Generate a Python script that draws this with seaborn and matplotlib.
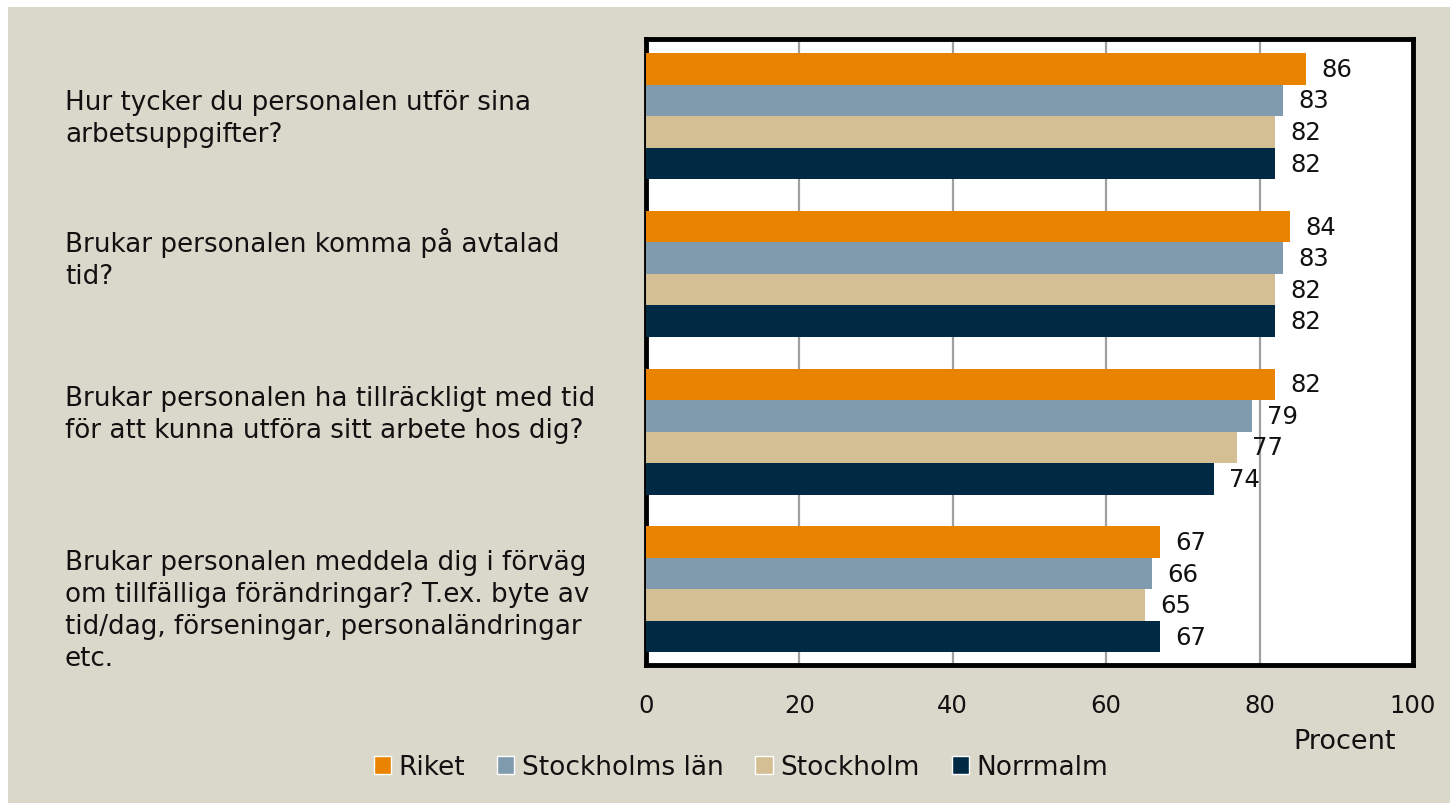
import numpy as np
import pandas as pd
import seaborn as sns
import matplotlib.pyplot as plt
import matplotlib.transforms as mtransforms
from matplotlib.patches import Rectangle

### Data ###
questions = [
    "Hur tycker du personalen utför sina\narbetsuppgifter?",
    "Brukar personalen komma på avtalad\ntid?",
    "Brukar personalen ha tillräckligt med tid\nför att kunna utföra sitt arbete hos dig?",
    "Brukar personalen meddela dig i förväg\nom tillfälliga förändringar? T.ex. byte av\ntid/dag, förseningar, personaländringar\netc.",
]
areas = ["Riket", "Stockholms län", "Stockholm", "Norrmalm"]
riket = [86, 84, 82, 67]
stockholms_lan = [83, 83, 79, 66]
stockholm = [82, 82, 77, 65]
norrmalm = [82, 82, 74, 67]
ticks = [0, 20, 40, 60, 80, 100]

colors = ["#E98300", "#7F9BAD", "#D4BF95", "#002A43"]
bg = "#DAD7CB"
# small vertical nudges of the wrapped question labels (category units)
label_shift = [0.01, -0.1, -0.11, 0.13]

df = pd.DataFrame({
    "Fråga": questions * 4,
    "Område": np.repeat(areas, len(questions)),
    "Procent": riket + stockholms_lan + stockholm + norrmalm,
})

sns.set_theme(style="white")
plt.rcParams["font.family"] = ["DejaVu Sans"]

fig = plt.figure(figsize=(14.5, 8.04), dpi=100, facecolor="white")
fig.patches.append(Rectangle((8 / 1450, 0), 1, 1 - 8 / 804, transform=fig.transFigure,
                             facecolor=bg, edgecolor="none", zorder=-10))
ax = fig.add_axes([646 / 1450, 1 - 666 / 804, (1413 - 646) / 1450, (666 - 40) / 804])

sns.barplot(data=df, y="Fråga", x="Procent", hue="Område", hue_order=areas,
            palette=colors, orient="h", width=0.8, linewidth=0, saturation=1,
            ax=ax, legend=False, zorder=3)

for cont in ax.containers:
    ax.bar_label(cont, padding=11, fontsize=17.5, color="#111111")

ax.set_xlim(0, 100)
ax.set_ylim(3.48, -0.49)
ax.set_xticks(ticks)
ax.set_xticklabels([str(t) for t in ticks], fontsize=17.5, color="#111111")
ax.tick_params(axis="x", length=0, pad=20)
ax.set_yticks([])
ax.set_xlabel("")
ax.set_ylabel("")
ax.set_facecolor("white")
ax.grid(axis="x", color="#A0A0A0", linewidth=1.6, zorder=0)
ax.set_axisbelow(True)
for s in ax.spines.values():
    s.set_visible(True)
    s.set_color("black")
    s.set_linewidth(3.5)

### Question labels on the left ###
trans = mtransforms.blended_transform_factory(fig.transFigure, ax.transData)
for i, q in enumerate(questions):
    ax.text(65 / 1450, i + label_shift[i], q, transform=trans, ha="left", va="center",
            fontsize=18.8, linespacing=1.3, color="#111111")

fig.text(1345 / 1450, 1 - 742 / 804, "Procent", ha="center", va="center",
         fontsize=19.5, color="#111111")

handles = [Rectangle((0, 0), 1, 1, facecolor=c) for c in colors]
fig.legend(handles, areas, loc="center", bbox_to_anchor=(741 / 1450, 1 - 768 / 804),
           ncol=4, frameon=False, fontsize=19, handlelength=0.65, handleheight=0.65,
           handletextpad=0.3, columnspacing=1.2, labelcolor="#111111")

fig.savefig("out.png", dpi=100, facecolor=fig.get_facecolor())
